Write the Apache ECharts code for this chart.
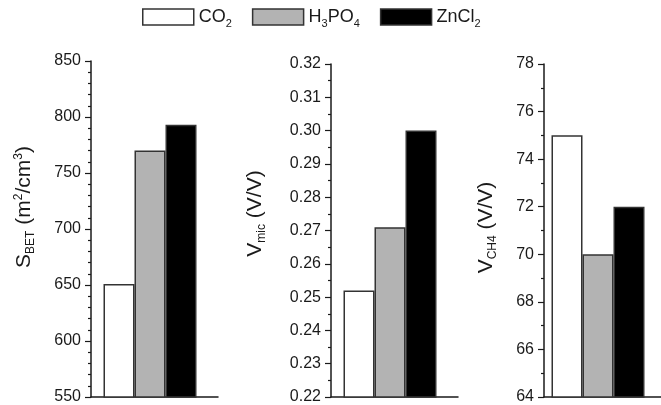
<!DOCTYPE html>
<html>
<head>
<meta charset="utf-8">
<script src="https://cdn.jsdelivr.net/npm/echarts@6/dist/echarts.min.js"></script>
<style>html,body{margin:0;padding:0;background:#fff}#c{width:661px;height:405px}</style>
</head>
<body>
<div id="c"></div>
<script>
const categories = ['CO2', 'H3PO4', 'ZnCl2'];
const legendLabels = ['{n|CO}{s|2}', '{n|H}{s|3}{n|PO}{s|4}', '{n|ZnCl}{s|2}'];
const sbetValues = [651, 770, 793];
const vmicValues = [0.252, 0.271, 0.300];
const vch4Values = [75, 70, 72];
const sbetTicks = {min: 550, max: 850, interval: 50};
const vmicTicks = {min: 0.22, max: 0.32, interval: 0.01};
const vch4Ticks = {min: 64, max: 78, interval: 2};

const FONT = 'Liberation Sans, Arial, sans-serif';
const fills = ['#ffffff', '#b3b3b3', '#000000'];
const AX = '#1a1a1a';

const nameRich = {
  n: {fontSize: 21, fontFamily: FONT, color: AX, lineHeight: 26},
  sub: {fontSize: 12, fontFamily: FONT, color: AX, lineHeight: 12, verticalAlign: 'bottom'},
  sup: {fontSize: 12, fontFamily: FONT, color: AX, lineHeight: 12, verticalAlign: 'top', padding: [2, 0, 0, 0]}
};

const panels = [
  {values: sbetValues, ticks: sbetTicks, minor: 5, name: '{n|S}{sub|BET}{n| (m}{sup|2}{n|/cm}{sup|3}{n|)}', gap: 54, pad: [0, 0, 0, 44], fmt: v => String(v),
   grid: {left: 91, top: 61, width: 127, height: 340}},
  {values: vmicValues, ticks: vmicTicks, minor: 2, name: '{n|V}{sub|mic}{n| (V/V)}', gap: 63, pad: [0, 0, 0, 34], fmt: v => v.toFixed(2),
   grid: {left: 331, top: 64, width: 127, height: 337}},
  {values: vch4Values, ticks: vch4Ticks, minor: 2, name: '{n|V}{sub|CH4}{n| (V/V)}', gap: 45, pad: [0, 0, 0, 6], fmt: v => String(v),
   grid: {left: 544, top: 64, width: 127, height: 337}}
];

const grids = [], xAxes = [], yAxes = [], series = [];
panels.forEach((p, i) => {
  grids.push(p.grid);
  xAxes.push({
    type: 'category', gridIndex: i, data: [''],
    axisTick: {show: false}, axisLabel: {show: false},
    axisLine: {lineStyle: {color: AX, width: 1.5}}
  });
  yAxes.push({
    type: 'value', gridIndex: i, min: p.ticks.min, max: p.ticks.max, interval: p.ticks.interval,
    name: p.name, nameLocation: 'middle', nameRotate: 90, nameGap: p.gap,
    nameTextStyle: {rich: nameRich, padding: p.pad},
    axisLine: {show: true, lineStyle: {color: AX, width: 1.5}},
    axisTick: {show: true, inside: false, length: 6, lineStyle: {color: AX, width: 1.2}},
    minorTick: {show: true, splitNumber: p.minor, length: 3, lineStyle: {color: AX, width: 1.2}},
    splitLine: {show: false},
    axisLabel: {fontFamily: FONT, fontSize: 16, color: AX, margin: 10, formatter: p.fmt}
  });
  categories.forEach((c, k) => {
    series.push({
      type: 'bar', name: c, xAxisIndex: i, yAxisIndex: i,
      data: [p.values[k]], barWidth: 31, barGap: '0%',
      itemStyle: {color: fills[k], borderColor: '#333', borderWidth: 1.5},
      emphasis: {disabled: true}, animation: false
    });
  });
  // empty spacer keeping the bar group slightly left of centre, as in the original
  series.push({type: 'bar', name: 'spacer', xAxisIndex: i, yAxisIndex: i, data: [null], barWidth: 9, barGap: '0%', animation: false});
});

const chart = echarts.init(document.getElementById('c'), null, {renderer: 'canvas'});
chart.setOption({
  animation: false,
  legend: {
    data: categories, left: 142, top: 8, padding: 0, itemWidth: 51, itemHeight: 16, itemGap: 20,
    icon: 'rect', selectedMode: false,
    itemStyle: {borderColor: '#333', borderWidth: 1.5},
    formatter: name => legendLabels[categories.indexOf(name)],
    textStyle: {
      rich: {
        n: {fontSize: 18, fontFamily: FONT, color: AX, lineHeight: 24},
        s: {fontSize: 11, fontFamily: FONT, color: AX, lineHeight: 11, verticalAlign: 'bottom', padding: [4, 0, 0, 0]}
      }
    }
  },
  grid: grids, xAxis: xAxes, yAxis: yAxes, series: series
});
</script>
</body>
</html>
